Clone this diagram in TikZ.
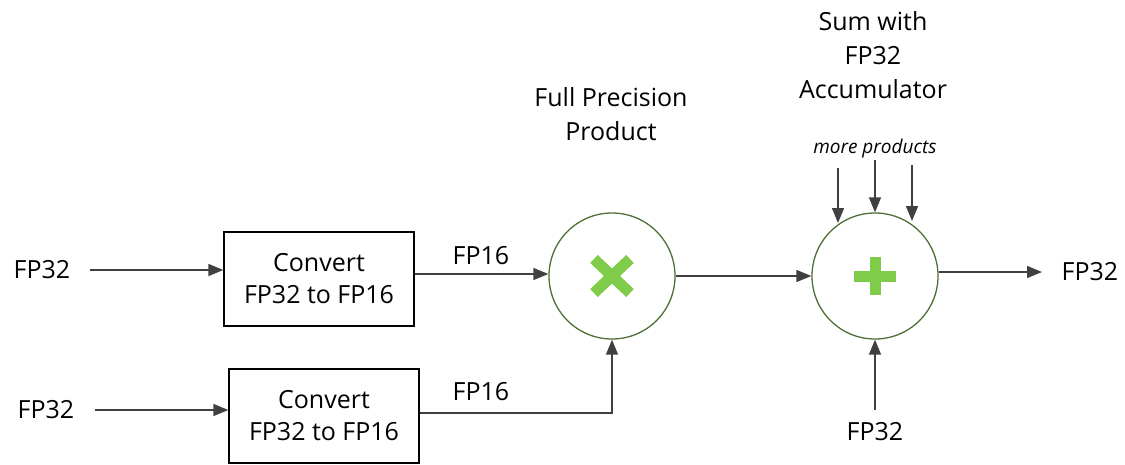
\documentclass[tikz,border=0pt]{standalone}
\usepackage{fontspec}
\setmainfont{Open Sans}
\usetikzlibrary{arrows.meta,calc}
\definecolor{arr}{HTML}{404040}
\definecolor{ring}{HTML}{4F6F33}
\definecolor{sym}{HTML}{7FCC4A}
\begin{document}
\begin{tikzpicture}[x=1pt,y=-1pt,
  conn/.style={draw=arr,line width=1.4pt,-{Triangle[length=15pt,width=12pt]}},
  lbl/.style={font=\fontsize{25}{28}\selectfont,text=black,inner sep=0pt},
  boxn/.style={draw=black,line width=1.3pt,minimum width=190pt,minimum height=94pt,align=center,font=\fontsize{25}{32}\selectfont,inner sep=0pt},
  opn/.style={circle,draw=ring,line width=1.3pt,minimum size=126pt,inner sep=0pt},
  ttl/.style={align=center,font=\fontsize{25}{34}\selectfont,inner sep=0pt}]
\useasboundingbox (0,0) rectangle (1125,464);
\node[lbl] (in1) at (42,270) {FP32};
\node[lbl] (in2) at (46,410) {FP32};
\node[boxn] (c1) at (319,279) {Convert\\FP32 to FP16};
\node[boxn] (c2) at (324,416) {Convert\\FP32 to FP16};
\node[opn] (mul) at (612,276) {};
\node[opn] (add) at (875,276) {};
\node[lbl] (out) at (1090,272) {FP32};
\node[lbl] (acc) at (875,432) {FP32};
\node[lbl] (f1) at (481,256) {FP16};
\node[lbl] (f2) at (481,392) {FP16};
\node[ttl] (t1) at (611,114) {Full Precision\\Product};
\node[ttl] (t2) at (873,55) {Sum with\\FP32\\Accumulator};
\node[font=\itshape\fontsize{19}{21}\selectfont,inner sep=0pt] (mp) at (875,149) {more products};
% symbols
\draw[sym,line width=11pt] ($(mul.center)+(-18,-17)$) -- ($(mul.center)+(18,17)$)
  ($(mul.center)+(-18,17)$) -- ($(mul.center)+(18,-17)$);
\draw[sym,line width=11pt] ($(add.center)+(-21,0)$) -- ($(add.center)+(21,0)$)
  ($(add.center)+(0,-19)$) -- ($(add.center)+(0,19)$);
% connectors
\coordinate (a1s) at (90,270);
\coordinate (a2s) at (95,410);
\draw[conn] (a1s) -- (c1.west |- a1s);
\draw[conn] (a2s) -- (c2.west |- a2s);
\draw[conn] (c1.east |- 0,274) -- (mul.west |- 0,274);
\draw[conn] (c2.east |- 0,413) -| (mul.south);
\draw[conn] (mul.east) -- (add.west);
\coordinate (oe) at (1042,272);
\draw[conn] (add.east |- oe) -- (oe);
\coordinate (ab) at (875,410);
\draw[conn] (ab) -- (add.south);
\coordinate (m1) at (838,168);
\coordinate (m2) at (875,160);
\coordinate (m3) at (912,165);
\draw[conn] (m1) -- (838,223);
\draw[conn] (m2) -- (add.north);
\draw[conn] (m3) -- (912,221);
\end{tikzpicture}
\end{document}
